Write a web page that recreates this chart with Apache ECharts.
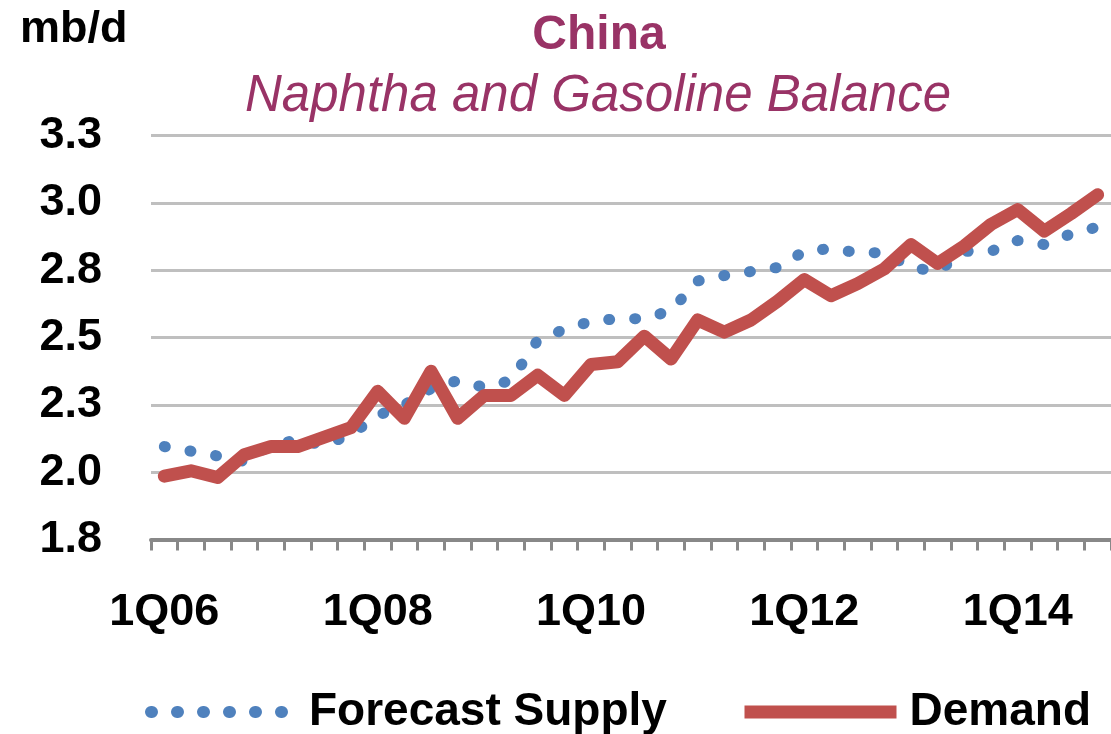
<!DOCTYPE html>
<html>
<head>
<meta charset="utf-8">
<script src="https://cdn.jsdelivr.net/npm/echarts@6/dist/echarts.min.js"></script>
<style>
  html, body { margin: 0; padding: 0; background: #fff; }
  #chart { width: 1111px; height: 734px; }
</style>
</head>
<body>
<div id="chart"></div>
<script>
// Quarters shown on the category axis
const quarters = [
  '1Q06','2Q06','3Q06','4Q06','1Q07','2Q07','3Q07','4Q07',
  '1Q08','2Q08','3Q08','4Q08','1Q09','2Q09','3Q09','4Q09',
  '1Q10','2Q10','3Q10','4Q10','1Q11','2Q11','3Q11','4Q11',
  '1Q12','2Q12','3Q12','4Q12','1Q13','2Q13','3Q13','4Q13',
  '1Q14','2Q14','3Q14','4Q14'
];

// Forecast supply, mb/d
const forecastSupply = [
  2.095, 2.078, 2.06, 2.04, 2.10, 2.12, 2.10, 2.14,
  2.21, 2.25, 2.31, 2.34, 2.315, 2.34, 2.49, 2.53,
  2.56, 2.57, 2.57, 2.60, 2.71, 2.73, 2.745, 2.76,
  2.82, 2.83, 2.815, 2.815, 2.76, 2.745, 2.82, 2.82,
  2.86, 2.845, 2.885, 2.91
];

// Demand, mb/d
const demand = [
  1.985, 2.005, 1.98, 2.065, 2.095, 2.095, 2.13, 2.165,
  2.30, 2.20, 2.375, 2.20, 2.285, 2.285, 2.36, 2.285,
  2.40, 2.41, 2.505, 2.42, 2.565, 2.52, 2.565, 2.635,
  2.715, 2.655, 2.70, 2.755, 2.845, 2.775, 2.84, 2.92,
  2.975, 2.895, 2.96, 3.03
];

// Value axis labels, one per gridline from 1.75 to 3.25
const yTickLabels = ['1.8', '2.0', '2.3', '2.5', '2.8', '3.0', '3.3'];

const FONT = '"Liberation Sans", Arial, sans-serif';
const BLUE = '#4F81BD';
const RED = '#C0504D';
const TITLE_COLOR = '#993366';

const chart = echarts.init(document.getElementById('chart'), null, { renderer: 'canvas' });

chart.setOption({
  animation: false,
  backgroundColor: '#ffffff',
  title: [
    {
      text: 'China',
      left: 599, top: 12, padding: 0,
      textAlign: 'center',
      textStyle: { fontFamily: FONT, fontWeight: 'bold', fontSize: 48, color: TITLE_COLOR }
    },
    {
      text: 'Naphtha and Gasoline Balance',
      left: 598, top: 71, padding: 0,
      textAlign: 'center',
      textStyle: { fontFamily: FONT, fontWeight: 'normal', fontStyle: 'italic', fontSize: 51, color: TITLE_COLOR }
    },
    {
      text: 'mb/d',
      left: 20, top: 7, padding: 0,
      textStyle: { fontFamily: FONT, fontWeight: 'bold', fontSize: 45, color: '#000' }
    }
  ],
  legend: [
    {
      data: ['Forecast Supply'],
      left: 145, top: 689, padding: 0,
      itemWidth: 153, itemHeight: 20,
      itemStyle: { opacity: 0 },
      lineStyle: { width: 12, type: [1, 25], cap: 'round', color: BLUE },
      textStyle: { fontFamily: FONT, fontWeight: 'bold', fontSize: 46, color: '#000' }
    },
    {
      data: ['Demand'],
      left: 738, top: 689, padding: 0,
      itemWidth: 152, itemHeight: 20,
      itemStyle: { opacity: 0 },
      lineStyle: { width: 13, type: 'solid', cap: 'butt', color: RED },
      textStyle: { fontFamily: FONT, fontWeight: 'bold', fontSize: 46, color: '#000', padding: [0, 0, 0, 8] }
    }
  ],
  grid: {
    left: 151, top: 135.5, width: 970.6, height: 404,
    containLabel: false
  },
  xAxis: {
    type: 'category',
    data: quarters,
    boundaryGap: true,
    axisLine: { show: true, lineStyle: { color: '#888888', width: 4 } },
    axisTick: { show: true, interval: 0, length: 11, lineStyle: { color: '#888888', width: 3 } },
    axisLabel: {
      interval: 7, margin: 51,
      fontFamily: FONT, fontWeight: 'bold', fontSize: 45, color: '#000'
    },
    splitLine: { show: false }
  },
  yAxis: {
    type: 'value',
    min: 1.75, max: 3.25, interval: 0.25,
    axisLine: { show: false },
    axisTick: { show: false },
    axisLabel: {
      margin: 49,
      padding: [6, 0, 0, 0],
      fontFamily: FONT, fontWeight: 'bold', fontSize: 45, color: '#000',
      formatter: (v, i) => yTickLabels[i]
    },
    splitLine: { show: true, lineStyle: { color: '#BFBFBF', width: 3 } }
  },
  series: [
    {
      name: 'Forecast Supply',
      type: 'line',
      data: forecastSupply,
      symbol: 'none',
      smooth: false,
      lineStyle: { color: BLUE, width: 11, type: [1, 25], cap: 'round', join: 'round' },
      itemStyle: { color: BLUE },
      z: 2
    },
    {
      name: 'Demand',
      type: 'line',
      data: demand,
      symbol: 'none',
      smooth: false,
      lineStyle: { color: RED, width: 13, type: 'solid', cap: 'round', join: 'round' },
      itemStyle: { color: RED },
      z: 3
    }
  ]
});
</script>
</body>
</html>
